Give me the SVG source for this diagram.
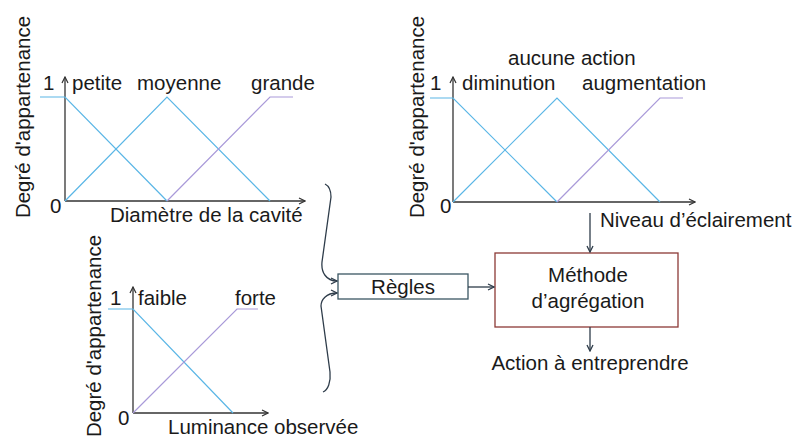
<svg xmlns="http://www.w3.org/2000/svg" width="795" height="437" viewBox="0 0 795 437">
<style>
text{font-family:"Liberation Sans",Arial,sans-serif;font-size:20.5px;fill:#1a1a1a}
.ax{stroke:#333;stroke-width:1.3;fill:none}
.b{stroke:#5ab6e6;stroke-width:1.2;fill:none}
.p{stroke:#a99ad9;stroke-width:1.2;fill:none}
.c{stroke:#2e3c4a;stroke-width:1.3;fill:none}
.m{text-anchor:middle}
</style>
<defs>
<marker id="ah" markerWidth="8" markerHeight="8" refX="7" refY="4" orient="auto" markerUnits="userSpaceOnUse">
<path d="M1,1 L7,4 L1,7" fill="none" stroke="#2e3c4a" stroke-width="1.3"/>
</marker>
<marker id="ah2" markerWidth="8" markerHeight="8" refX="7" refY="4" orient="auto" markerUnits="userSpaceOnUse">
<path d="M1,1 L7,4 L1,7" fill="none" stroke="#333" stroke-width="1.2"/>
</marker>
</defs>

<g id="chart-diametre">
<text transform="translate(30,117) rotate(-90)" class="m">Degré d'appartenance</text>
<path class="ax" d="M65,201 V77" marker-end="url(#ah2)"/>
<path class="ax" d="M65,201 H305" marker-end="url(#ah2)"/>
<path class="b" d="M40,97 H65 L167,201"/>
<path class="b" d="M65,201 L167,97 L270,201"/>
<path class="p" d="M167,201 L270,97 H293"/>
<text x="43" y="90">1</text>
<text x="50" y="213">0</text>
<text x="72" y="90">petite</text>
<text x="137" y="90">moyenne</text>
<text x="251" y="90">grande</text>
<text x="110" y="222">Diamètre de la cavité</text>
</g>

<g id="chart-niveau">
<text transform="translate(424,117) rotate(-90)" class="m">Degré d'appartenance</text>
<path class="ax" d="M453,202 V77" marker-end="url(#ah2)"/>
<path class="ax" d="M453,202 H695" marker-end="url(#ah2)"/>
<path class="b" d="M430,98 H453 L557,202"/>
<path class="b" d="M453,202 L557,98 L660,202"/>
<path class="p" d="M557,202 L660,98 H683"/>
<text x="430" y="90">1</text>
<text x="440" y="213">0</text>
<text x="462" y="90">diminution</text>
<text x="508" y="65">aucune action</text>
<text x="582" y="90">augmentation</text>
<text x="600" y="227">Niveau d’éclairement</text>
</g>

<g id="chart-luminance">
<text transform="translate(101,336) rotate(-90)" class="m">Degré d'appartenance</text>
<path class="ax" d="M133,413 V287" marker-end="url(#ah2)"/>
<path class="ax" d="M133,413 H268" marker-end="url(#ah2)"/>
<path class="b" d="M108,309 H133 L233,413"/>
<path class="p" d="M133,413 L237,309 H258"/>
<text x="110" y="305">1</text>
<text x="118" y="425">0</text>
<text x="138" y="305">faible</text>
<text x="235" y="305">forte</text>
<text x="168" y="434">Luminance observée</text>
</g>

<g id="regles">
<rect x="338" y="274" width="130" height="25" fill="#fff" stroke="#3b5663" stroke-width="1.3"/>
<text x="403" y="294" class="m">Règles</text>
</g>

<g id="methode">
<rect x="495" y="253" width="183" height="74" fill="#fff" stroke="#8c3a36" stroke-width="1.3"/>
<text x="588" y="282" class="m">Méthode</text>
<text x="588" y="308" class="m">d’agrégation</text>
</g>

<g id="action">
<text x="590" y="370" class="m">Action à entreprendre</text>
</g>

<g id="connectors">
<path class="c" d="M325,184 C329,186 331,190 331,197 L322,262 C321,272 326,281 337,281" marker-end="url(#ah)"/>
<path class="c" d="M323,392 C328,390 331,382 330,372 L321,306 C321,300 326,293 337,293" marker-end="url(#ah)"/>
<path class="c" d="M468,287 H494" marker-end="url(#ah)"/>
<path class="c" d="M590,213 V252" marker-end="url(#ah)"/>
<path class="c" d="M590,327 V351" marker-end="url(#ah)"/>
</g>
</svg>
